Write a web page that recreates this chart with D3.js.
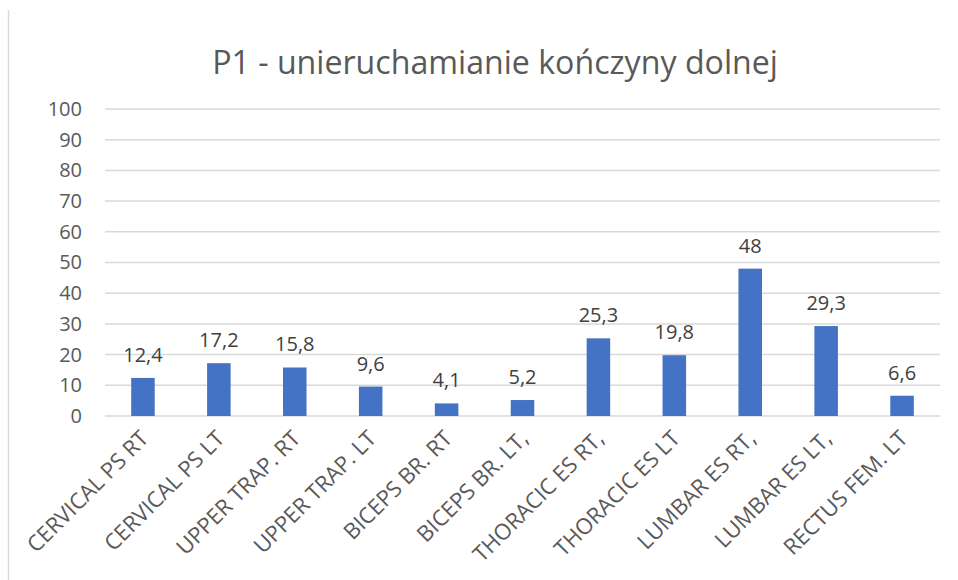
<!DOCTYPE html>
<html><head><meta charset="utf-8">
<script src="https://cdn.jsdelivr.net/npm/d3@7"></script>
<style>body{margin:0;background:#fff;}svg{display:block;font-family:"Open Sans","Noto Sans",sans-serif;}</style>
</head><body>
<svg id="c" width="958" height="580"></svg>
<script>
const title = "P1 - unieruchamianie kończyny dolnej";
const categories = ["CERVICAL PS RT","CERVICAL PS LT","UPPER TRAP. RT","UPPER TRAP. LT","BICEPS BR. RT","BICEPS BR. LT,","THORACIC ES RT,","THORACIC ES LT","LUMBAR ES RT,","LUMBAR ES LT,","RECTUS FEM. LT"];
const values = [12.4,17.2,15.8,9.6,4.1,5.2,25.3,19.8,48,29.3,6.6];
const yTicks = [0,10,20,30,40,50,60,70,80,90,100];

const FONT = '"Open Sans","Noto Sans",sans-serif';
const svg = d3.select("#c");
const m = {left:105, right:940, top:109, bottom:416};
const x = d3.scaleBand().domain(categories).range([m.left,m.right]).paddingInner(0.69).paddingOuter(0.345);
const y = d3.scaleLinear().domain([0,100]).range([m.bottom,m.top]);
const fmt = v => String(v).replace(".", ",");

// frame line
svg.append("line").attr("x1",8.5).attr("x2",8.5).attr("y1",10).attr("y2",580).attr("stroke","#d9d9d9").attr("stroke-width",1.5);

// title
const t = svg.append("text").attr("x",495).attr("y",74).attr("text-anchor","middle")
  .attr("fill","#595959").attr("font-size",30).text(title);
const tw = t.node().getComputedTextLength();
t.attr("font-size", 30*566/tw);

// gridlines
svg.append("g").selectAll("line").data(yTicks).join("line")
  .attr("x1",m.left).attr("x2",m.right).attr("y1",d=>y(d)).attr("y2",d=>y(d))
  .attr("stroke","#d9d9d9").attr("stroke-width",1.5);

// y axis labels
const ya = svg.append("g").attr("transform",`translate(${m.left},0)`)
  .call(d3.axisLeft(y).tickValues(yTicks).tickSize(0).tickPadding(23))
  .attr("font-family",FONT).attr("font-size",20);
ya.select(".domain").remove();
ya.selectAll("text").attr("fill","#595959");

// bars
svg.append("g").selectAll("rect").data(values).join("rect")
  .attr("x",(d,i)=>x(categories[i])).attr("width",x.bandwidth())
  .attr("y",d=>y(d)).attr("height",d=>y(0)-y(d)).attr("fill","#4472C4");

// data labels
svg.append("g").selectAll("text").data(values).join("text")
  .attr("x",(d,i)=>x(categories[i])+x.bandwidth()/2).attr("y",d=>y(d)-16)
  .attr("text-anchor","middle").attr("font-size",20).attr("fill","#404040").text(fmt);

// x labels
const xa = svg.append("g").attr("transform",`translate(0,${m.bottom})`)
  .call(d3.axisBottom(x).tickSize(0).tickPadding(0))
  .attr("font-family",FONT).attr("font-size",17);
xa.select(".domain").remove();
const first = xa.select("text").node().getComputedTextLength();
xa.attr("font-size", 17*161/first);
xa.selectAll("text").attr("fill","#595959")
  .attr("text-anchor","end").attr("dy",null)
  .attr("transform","translate(7,24) rotate(-45)");
</script>
</body></html>
